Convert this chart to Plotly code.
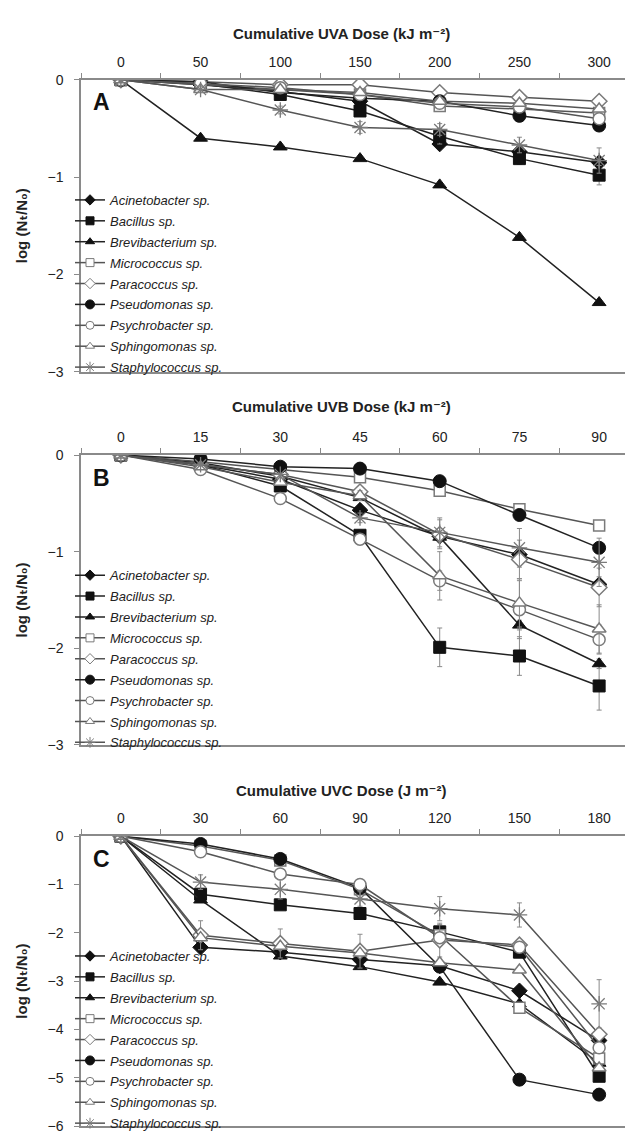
import plotly.graph_objects as go

species = ["Acinetobacter sp.", "Bacillus sp.", "Brevibacterium sp.", "Micrococcus sp.",
           "Paracoccus sp.", "Pseudomonas sp.", "Psychrobacter sp.", "Sphingomonas sp.",
           "Staphylococcus sp."]

# ---------------- Panel A: UVA (kJ m-2) ----------------
uva_dose = [0, 50, 100, 150, 200, 250, 300]
uva_acinetobacter = [0, -0.05, -0.12, -0.22, -0.66, -0.74, -0.85]
uva_bacillus = [0, -0.04, -0.15, -0.32, -0.58, -0.81, -0.98]
uva_brevibacterium = [0, -0.60, -0.69, -0.81, -1.08, -1.62, -2.29]
uva_micrococcus = [0, -0.05, -0.10, -0.15, -0.27, -0.30, -0.34]
uva_paracoccus = [0, -0.02, -0.05, -0.05, -0.13, -0.18, -0.22]
uva_pseudomonas = [0, -0.02, -0.13, -0.19, -0.22, -0.37, -0.47]
uva_psychrobacter = [0, -0.04, -0.08, -0.15, -0.24, -0.28, -0.40]
uva_sphingomonas = [0, -0.10, -0.10, -0.13, -0.22, -0.24, -0.30]
uva_staphylococcus = [0, -0.10, -0.31, -0.49, -0.51, -0.67, -0.83]

uva_err_acinetobacter = [0, 0, 0, 0, 0.03, 0.03, 0.04]
uva_err_bacillus = [0, 0, 0, 0.03, 0.08, 0.06, 0.10]
uva_err_brevibacterium = [0, 0, 0, 0, 0, 0, 0]
uva_err_micrococcus = [0, 0, 0, 0, 0.03, 0.03, 0.03]
uva_err_paracoccus = [0, 0, 0.03, 0.03, 0.03, 0.03, 0.03]
uva_err_pseudomonas = [0, 0, 0, 0, 0, 0, 0]
uva_err_psychrobacter = [0, 0, 0, 0, 0.03, 0.03, 0.03]
uva_err_sphingomonas = [0, 0, 0, 0, 0, 0.03, 0.03]
uva_err_staphylococcus = [0, 0.03, 0.04, 0.06, 0.06, 0.08, 0.13]

# ---------------- Panel B: UVB (kJ m-2) ----------------
uvb_dose = [0, 15, 30, 45, 60, 75, 90]
uvb_acinetobacter = [0, -0.10, -0.25, -0.57, -0.84, -1.03, -1.34]
uvb_bacillus = [0, -0.10, -0.32, -0.83, -1.99, -2.08, -2.39]
uvb_brevibacterium = [0, -0.08, -0.22, -0.44, -0.85, -1.76, -2.16]
uvb_micrococcus = [0, -0.07, -0.15, -0.23, -0.37, -0.56, -0.73]
uvb_paracoccus = [0, -0.10, -0.20, -0.38, -0.82, -1.08, -1.37]
uvb_pseudomonas = [0, -0.04, -0.12, -0.14, -0.27, -0.62, -0.96]
uvb_psychrobacter = [0, -0.15, -0.45, -0.87, -1.30, -1.60, -1.91]
uvb_sphingomonas = [0, -0.12, -0.28, -0.42, -1.25, -1.53, -1.80]
uvb_staphylococcus = [0, -0.10, -0.20, -0.65, -0.80, -0.96, -1.11]

uvb_err_acinetobacter = [0, 0, 0, 0.03, 0.05, 0.05, 0.08]
uvb_err_bacillus = [0, 0, 0, 0.05, 0.20, 0.20, 0.25]
uvb_err_brevibacterium = [0, 0, 0, 0.03, 0.05, 0.05, 0.05]
uvb_err_micrococcus = [0, 0, 0, 0, 0, 0, 0]
uvb_err_paracoccus = [0, 0, 0, 0.05, 0.15, 0.20, 0.20]
uvb_err_pseudomonas = [0, 0, 0, 0, 0, 0, 0]
uvb_err_psychrobacter = [0, 0, 0, 0.03, 0.10, 0.30, 0.15]
uvb_err_sphingomonas = [0, 0, 0, 0.05, 0.25, 0.25, 0.25]
uvb_err_staphylococcus = [0, 0, 0, 0.05, 0.15, 0.20, 0.25]

# ---------------- Panel C: UVC (J m-2) ----------------
uvc_dose = [0, 30, 60, 90, 120, 150, 180]
uvc_acinetobacter = [0, -2.30, -2.40, -2.55, -2.68, -3.20, -4.23]
uvc_bacillus = [0, -1.20, -1.42, -1.60, -1.98, -2.40, -4.97]
uvc_brevibacterium = [0, -1.32, -2.48, -2.70, -3.02, -3.47, -4.70]
uvc_micrococcus = [0, -0.20, -0.50, -1.10, -2.05, -3.55, -4.60]
uvc_paracoccus = [0, -2.05, -2.22, -2.38, -2.15, -2.25, -4.10]
uvc_pseudomonas = [0, -0.16, -0.47, -1.07, -2.70, -5.04, -5.35]
uvc_psychrobacter = [0, -0.32, -0.78, -1.00, -2.10, -2.30, -4.38]
uvc_sphingomonas = [0, -2.10, -2.28, -2.42, -2.62, -2.77, -4.80]
uvc_staphylococcus = [0, -0.95, -1.10, -1.30, -1.50, -1.63, -3.47]

uvc_err_acinetobacter = [0, 0, 0, 0, 0, 0.10, 0.10]
uvc_err_bacillus = [0, 0, 0, 0.10, 0.15, 0.10, 0.10]
uvc_err_brevibacterium = [0, 0, 0, 0, 0, 0, 0]
uvc_err_micrococcus = [0, 0, 0, 0, 0.10, 0.10, 0.10]
uvc_err_paracoccus = [0, 0.30, 0.30, 0.35, 0.35, 0.10, 0.10]
uvc_err_pseudomonas = [0, 0, 0, 0, 0, 0, 0]
uvc_err_psychrobacter = [0, 0, 0, 0, 0.10, 0.10, 0.10]
uvc_err_sphingomonas = [0, 0, 0, 0, 0, 0, 0]
uvc_err_staphylococcus = [0, 0.15, 0.20, 0.15, 0.25, 0.25, 0.50]

panel_values = {
    "A": [uva_acinetobacter, uva_bacillus, uva_brevibacterium, uva_micrococcus, uva_paracoccus,
          uva_pseudomonas, uva_psychrobacter, uva_sphingomonas, uva_staphylococcus],
    "B": [uvb_acinetobacter, uvb_bacillus, uvb_brevibacterium, uvb_micrococcus, uvb_paracoccus,
          uvb_pseudomonas, uvb_psychrobacter, uvb_sphingomonas, uvb_staphylococcus],
    "C": [uvc_acinetobacter, uvc_bacillus, uvc_brevibacterium, uvc_micrococcus, uvc_paracoccus,
          uvc_pseudomonas, uvc_psychrobacter, uvc_sphingomonas, uvc_staphylococcus],
}
panel_errors = {
    "A": [uva_err_acinetobacter, uva_err_bacillus, uva_err_brevibacterium, uva_err_micrococcus,
          uva_err_paracoccus, uva_err_pseudomonas, uva_err_psychrobacter, uva_err_sphingomonas,
          uva_err_staphylococcus],
    "B": [uvb_err_acinetobacter, uvb_err_bacillus, uvb_err_brevibacterium, uvb_err_micrococcus,
          uvb_err_paracoccus, uvb_err_pseudomonas, uvb_err_psychrobacter, uvb_err_sphingomonas,
          uvb_err_staphylococcus],
    "C": [uvc_err_acinetobacter, uvc_err_bacillus, uvc_err_brevibacterium, uvc_err_micrococcus,
          uvc_err_paracoccus, uvc_err_pseudomonas, uvc_err_psychrobacter, uvc_err_sphingomonas,
          uvc_err_staphylococcus],
}
panel_dose = {"A": uva_dose, "B": uvb_dose, "C": uvc_dose}
panel_titles = {"A": "Cumulative UVA Dose (kJ m⁻²)",
                "B": "Cumulative UVB Dose (kJ m⁻²)",
                "C": "Cumulative UVC Dose (J m⁻²)"}
y_title = "log (Nₜ/N₀)"
panel_yrange = {"A": [-3, 0], "B": [-3, 0], "C": [-6, 0]}
panel_yticks = {"A": [0, -1, -2, -3], "B": [0, -1, -2, -3], "C": [0, -1, -2, -3, -4, -5, -6]}

# ---------------- styles ----------------
FONT = "Liberation Sans, Arial, DejaVu Sans, sans-serif"
GRAY = "#8a8a8a"
OPEN = "#7a7a7a"
symbols = ["diamond", "square", "triangle-up", "square", "diamond", "circle", "circle",
           "triangle-up", "asterisk-open"]
fills = ["#111111", "#111111", "#111111", "white", "white", "#111111", "white", "white", OPEN]
edges = ["#111111", "#111111", "#111111", OPEN, OPEN, "#111111", OPEN, OPEN, OPEN]
edge_w = [1, 1, 1, 1.5, 1.5, 1, 1.5, 1.5, 1.3]
sizes = [12, 12, 12, 11, 12, 13, 12, 12, 13]
legend_sizes = [8, 8, 8, 8, 8, 9, 8, 8, 9]
line_colors = ["#222222", "#222222", "#222222", "#555555", "#555555", "#222222", "#555555",
               "#555555", "#555555"]

# pixel geometry (633 x 1131)
W, H = 633, 1131
def py(px):
    return 1 - px / H

x_dom = [73 / W, 631 / W]
y_dom = {"A": [py(362), py(65)], "B": [py(742), py(447)], "C": [py(1130), py(835)]}
legend_top = {"A": 172, "B": 554, "C": 942}
letter_y = {"A": 88, "B": 470, "C": 858}
title_y = {"A": 18, "B": 398, "C": 788}

fig = go.Figure()
panels = ["A", "B", "C"]
for pi, p in enumerate(panels):
    sfx = "" if pi == 0 else str(pi + 1)
    for si, name in enumerate(species):
        fig.add_trace(go.Scatter(
            x=panel_dose[p], y=panel_values[p][si], name=name,
            mode="lines+markers", showlegend=False,
            line=dict(color=line_colors[si], width=1.5),
            marker=dict(symbol=symbols[si], color=fills[si], size=sizes[si],
                        line=dict(color=edges[si], width=edge_w[si])),
            error_y=dict(type="data", array=panel_errors[p][si], visible=True,
                         color="#8a8a8a", thickness=1, width=2.5),
            xaxis="x" + sfx, yaxis="y" + sfx,
            legendgroup=p + str(si),
        ))
    # legend entries (smaller symbols, no data of their own)
    for si, name in enumerate(species):
        fig.add_trace(go.Scatter(
            x=[None], y=[None], name=name, mode="lines+markers",
            line=dict(color=line_colors[si], width=1.5),
            marker=dict(symbol=symbols[si], color=fills[si], size=legend_sizes[si],
                        line=dict(color=edges[si], width=1)),
            xaxis="x" + sfx, yaxis="y" + sfx,
            legend="legend" + sfx, legendgroup=p + str(si), showlegend=True,
        ))

layout = dict(
    width=W, height=H, margin=dict(l=0, r=0, t=0, b=0),
    paper_bgcolor="white", plot_bgcolor="white",
    font=dict(family=FONT, size=14, color="#222222"),
    showlegend=True,
    annotations=[],
)
for pi, p in enumerate(panels):
    sfx = "" if pi == 0 else str(pi + 1)
    dose = panel_dose[p]
    step = dose[1] - dose[0]
    minor_vals = [d - step / 2 for d in dose] + [dose[-1] + step / 2]
    layout["xaxis" + sfx] = dict(
        domain=x_dom, anchor="y" + sfx, side="top",
        range=[dose[0] - step / 2, dose[-1] + step / 2],
        tickmode="array", tickvals=dose, ticks="", ticklabelstandoff=6,
        minor=dict(tickmode="array", tickvals=minor_vals, ticks="outside", ticklen=5,
                   tickcolor=GRAY, tickwidth=1),
        showline=True, linecolor=GRAY, linewidth=1.5, mirror=True,
        showgrid=False, zeroline=False, fixedrange=True,
        tickfont=dict(size=14, color="#222222"),
    )
    layout["yaxis" + sfx] = dict(
        domain=y_dom[p], anchor="x" + sfx,
        range=panel_yrange[p], tickmode="array", tickvals=panel_yticks[p],
        ticks="outside", ticklen=5, tickcolor=GRAY, ticklabelstandoff=8,
        showline=True, linecolor=GRAY, linewidth=1.5, mirror=True,
        showgrid=False, zeroline=False,
        tickfont=dict(size=14, color="#222222"),
        title=dict(text=y_title,
                   font=dict(size=15, color="#222222", weight="bold"), standoff=16),
    )
    layout["legend" + sfx] = dict(
        x=62 / W, xanchor="left", y=py(legend_top[p]), yanchor="top",
        bgcolor="rgba(0,0,0,0)", borderwidth=0,
        font=dict(size=13, family=FONT, color="#222222", style="italic"),
        tracegroupgap=1, itemwidth=30, itemsizing="trace",
    )
    layout["annotations"].append(dict(
        text=panel_titles[p], xref="paper", yref="paper",
        x=333 / W, y=py(title_y[p]), xanchor="center", yanchor="middle",
        showarrow=False, font=dict(size=15, family=FONT, color="#222222", weight="bold")))
    layout["annotations"].append(dict(
        text=p, xref="paper", yref="paper",
        x=93 / W, y=py(letter_y[p]), xanchor="center", yanchor="middle",
        showarrow=False, font=dict(size=23, family=FONT, color="#111111", weight="bold")))

fig.update_layout(**layout)
fig.write_html("out.html")
